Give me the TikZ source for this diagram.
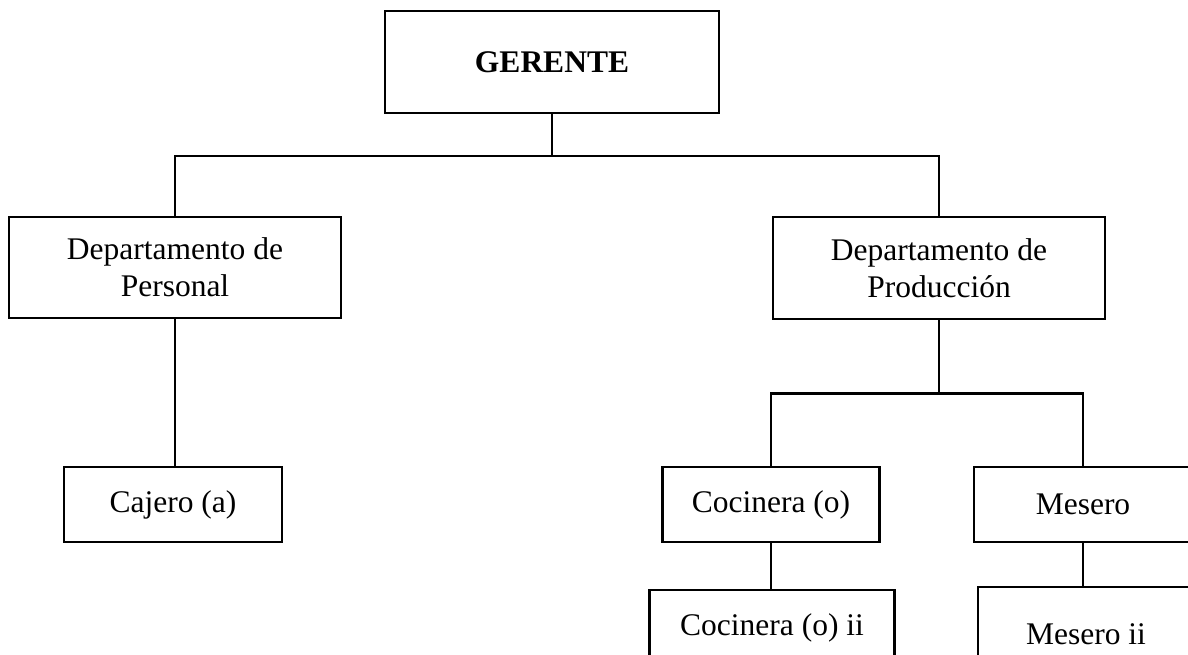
\documentclass[tikz,border=0pt]{standalone}
\usepackage{fontspec}
\setmainfont{Liberation Serif}
\begin{document}
\begin{tikzpicture}[x=1pt,y=-1pt,line width=2.5pt,
  box/.style={draw,rectangle,inner sep=0pt,align=center,font=\fontsize{31.5}{37}\selectfont},
  boldbox/.style={box,font=\fontsize{31.5}{37}\selectfont\bfseries},
  link/.style={draw,line cap=rect}]
\clip (0,0) rectangle (1188,655);
\node[boldbox,minimum width=334pt,minimum height=102pt] (ger) at (552,62) {GERENTE};
\node[box,minimum width=332pt,minimum height=101pt] (per) at (175,267.5) {Departamento de\\Personal};
\node[box,minimum width=332pt,minimum height=102pt] (pro) at (939,268) {Departamento de\\Producción};
\node[box,minimum width=218pt,minimum height=75pt] (caj) at (173,504.5) {Cajero (a)};
\node[box,minimum width=217pt,minimum height=75pt] (coc) at (771,504.5) {Cocinera (o)};
\node[box,minimum width=218pt,minimum height=75pt] (mes) at (1083,504.5) {Mesero};
\node[box,minimum width=245pt,minimum height=75pt] (coc2) at (772,627.5) {Cocinera (o) ii};
\node[box,minimum width=216pt,minimum height=94pt] (mes2) at (1086,634) {Mesero ii};
\draw[link] (ger.south) -- ++(0,42) coordinate (j1);
\draw[link] (per.north) |- (j1) -| (pro.north);
\draw[link] (per.south) -- (per.south |- caj.north);
\draw[link] (pro.south) -- ++(0,73) coordinate (j2);
\draw[link] (coc.north) |- (j2) -| (mes.north);
\draw[link] (coc.south) -- (coc.south |- coc2.north);
\draw[link] (mes.south) -- (mes.south |- mes2.north);
\end{tikzpicture}
\end{document}
